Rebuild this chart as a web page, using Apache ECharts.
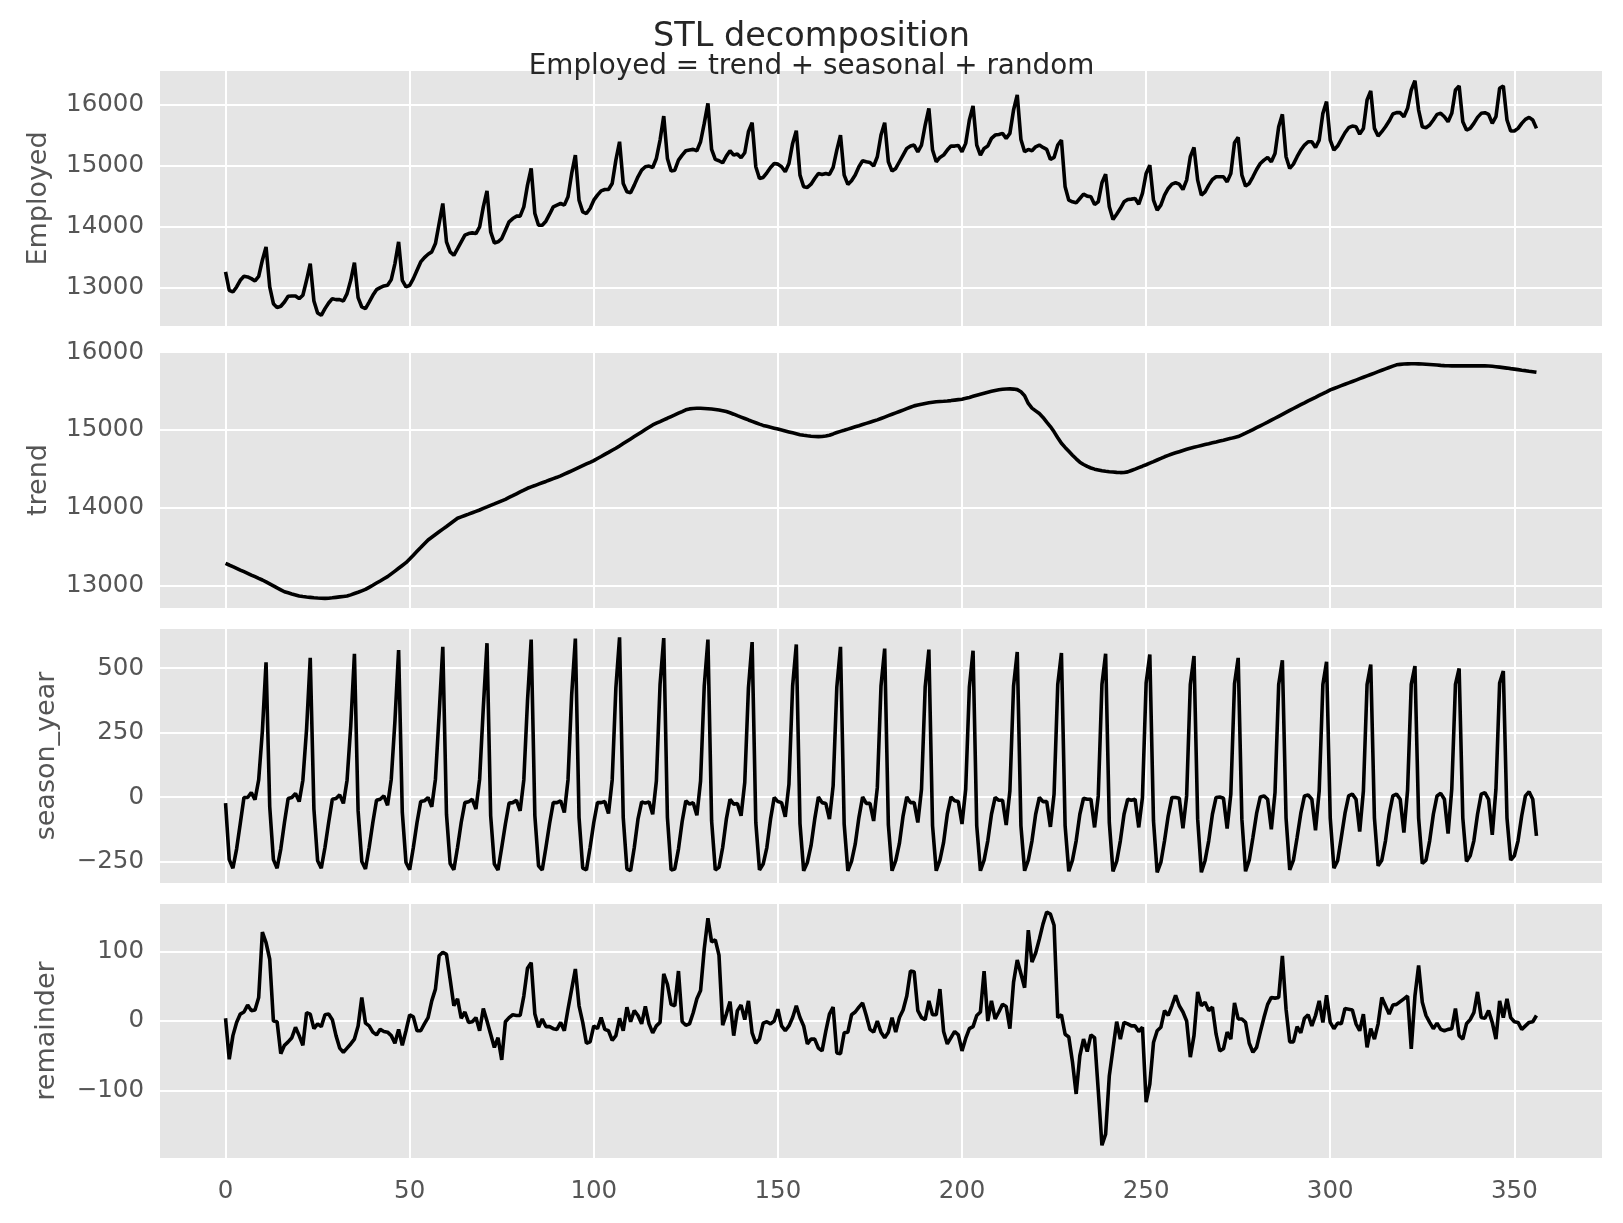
<!DOCTYPE html>
<html>
<head>
<meta charset="utf-8">
<script src="https://cdn.jsdelivr.net/npm/echarts@6/dist/echarts.min.js"></script>
<style>
  html, body { margin: 0; padding: 0; background: #fff; }
  #main { width: 1623px; height: 1223px; }
</style>
</head>
<body>
<div id="main"></div>
<script>
// one row per year, Jan..Dec
var employed = [
  13262, 12962, 12934, 13016, 13125, 13190, 13180, 13152, 13114, 13190, 13453, 13671,
  13016, 12743, 12678, 12700, 12770, 12863, 12869, 12869, 12825, 12880, 13125, 13398,
  12787, 12590, 12552, 12662, 12754, 12825, 12809, 12809, 12787, 12907, 13125, 13414,
  12842, 12689, 12662, 12770, 12880, 12972, 13005, 13032, 13043, 13136, 13398, 13753,
  13125, 13016, 13043, 13152, 13289, 13425, 13496, 13551, 13589, 13725, 14053, 14380,
  13753, 13589, 13534, 13643, 13753, 13862, 13889, 13900, 13889, 13998, 14325, 14587,
  13916, 13736, 13753, 13807, 13943, 14080, 14134, 14173, 14173, 14325, 14680, 14953,
  14216, 14025, 14025, 14091, 14205, 14325, 14353, 14380, 14353, 14489, 14871, 15171,
  14434, 14243, 14216, 14298, 14434, 14516, 14587, 14609, 14609, 14707, 15089, 15389,
  14707, 14571, 14554, 14680, 14816, 14925, 14980, 14991, 14969, 15116, 15416, 15809,
  15116, 14909, 14925, 15089, 15171, 15242, 15253, 15264, 15242, 15389, 15689, 16016,
  15264, 15100, 15078, 15045, 15154, 15242, 15171, 15187, 15127, 15209, 15553, 15700,
  14980, 14789, 14805, 14882, 14969, 15034, 15023, 14980, 14898, 15034, 15362, 15569,
  14844, 14653, 14642, 14696, 14789, 14871, 14855, 14871, 14855, 14969, 15253, 15498,
  14844, 14691, 14751, 14844, 14980, 15078, 15062, 15051, 14991, 15144, 15498, 15700,
  15062, 14909, 14953, 15062, 15171, 15280, 15318, 15335, 15225, 15335, 15662, 15935,
  15253, 15062, 15133, 15171, 15253, 15318, 15318, 15329, 15225, 15362, 15744, 15973,
  15335, 15171, 15280, 15318, 15444, 15498, 15509, 15526, 15444, 15526, 15907, 16153,
  15427, 15225, 15264, 15242, 15307, 15335, 15296, 15264, 15100, 15133, 15335, 15416,
  14653, 14434, 14407, 14391, 14462, 14533, 14500, 14489, 14364, 14407, 14718, 14860,
  14325, 14118, 14205, 14298, 14407, 14446, 14451, 14462, 14369, 14544, 14871, 15007,
  14434, 14271, 14353, 14516, 14625, 14696, 14718, 14696, 14609, 14762, 15144, 15296,
  14762, 14516, 14571, 14680, 14773, 14816, 14816, 14816, 14734, 14871, 15373, 15460,
  14844, 14664, 14707, 14816, 14936, 15034, 15089, 15133, 15062, 15198, 15635, 15836,
  15144, 14953, 15023, 15144, 15253, 15335, 15389, 15389, 15296, 15416, 15853, 16044,
  15416, 15253, 15318, 15427, 15536, 15618, 15645, 15634, 15514, 15607, 16071, 16218,
  15607, 15482, 15553, 15634, 15727, 15842, 15864, 15864, 15798, 15935, 16235, 16387,
  15907, 15634, 15618, 15662, 15744, 15836, 15853, 15798, 15716, 15853, 16235, 16300,
  15716, 15580, 15607, 15689, 15787, 15853, 15864, 15836, 15689, 15798, 16262, 16300,
  15744, 15564, 15564, 15607, 15689, 15755, 15787, 15744, 15607
];

var trend = [
  13283, 13262, 13240, 13219, 13197, 13176, 13155, 13133, 13112, 13090, 13069, 13044,
  13019, 12994, 12968, 12943, 12918, 12904, 12890, 12877, 12863, 12856, 12850, 12846,
  12841, 12837, 12834, 12833, 12835, 12840, 12846, 12852, 12858, 12863, 12878, 12895,
  12912, 12930, 12948, 12975, 13002, 13030, 13057, 13085, 13112, 13148, 13184, 13220,
  13256, 13292, 13340, 13389, 13438, 13486, 13535, 13584, 13619, 13654, 13689, 13724,
  13758, 13793, 13828, 13863, 13881, 13899, 13916, 13934, 13952, 13970, 13990, 14009,
  14029, 14048, 14068, 14088, 14107, 14131, 14154, 14178, 14202, 14225, 14249, 14267,
  14284, 14302, 14320, 14337, 14355, 14373, 14390, 14408, 14430, 14452, 14474, 14496,
  14518, 14540, 14562, 14583, 14605, 14632, 14658, 14685, 14711, 14738, 14764, 14794,
  14824, 14854, 14884, 14914, 14944, 14974, 15004, 15034, 15064, 15086, 15107, 15129,
  15150, 15172, 15193, 15215, 15236, 15258, 15270, 15275, 15278, 15278, 15276, 15273,
  15268, 15262, 15255, 15246, 15236, 15220, 15202, 15183, 15165, 15147, 15128, 15110,
  15092, 15074, 15058, 15046, 15034, 15022, 15010, 14998, 14986, 14974, 14962, 14950,
  14938, 14930, 14924, 14919, 14916, 14914, 14916, 14922, 14932, 14948, 14966, 14981,
  14995, 15010, 15025, 15040, 15054, 15069, 15084, 15099, 15114, 15129, 15147, 15165,
  15183, 15201, 15219, 15237, 15255, 15273, 15291, 15309, 15320, 15331, 15340, 15349,
  15356, 15362, 15365, 15368, 15372, 15377, 15383, 15389, 15395, 15406, 15418, 15432,
  15446, 15459, 15472, 15484, 15496, 15507, 15516, 15522, 15526, 15528, 15525, 15518,
  15490, 15440, 15340, 15280, 15245, 15210, 15160, 15100, 15043, 14975, 14900, 14828,
  14775, 14725, 14675, 14628, 14585, 14555, 14530, 14510, 14495, 14485, 14475, 14468,
  14462, 14458, 14454, 14451, 14452, 14460, 14478, 14496, 14515, 14533, 14552, 14572,
  14592, 14613, 14633, 14654, 14672, 14690, 14705, 14720, 14735, 14750, 14764, 14776,
  14788, 14800, 14811, 14822, 14834, 14845, 14857, 14868, 14880, 14891, 14903, 14914,
  14935, 14957, 14980, 15004, 15028, 15052, 15076, 15100, 15125, 15150, 15175, 15200,
  15225, 15250, 15275, 15300, 15324, 15348, 15373, 15396, 15419, 15443, 15466, 15490,
  15515, 15533, 15551, 15569, 15587, 15605, 15623, 15641, 15659, 15677, 15695, 15713,
  15731, 15749, 15767, 15785, 15803, 15820, 15837, 15843, 15847, 15849, 15850, 15850,
  15849, 15847, 15844, 15841, 15838, 15834, 15830, 15827, 15825, 15824, 15823, 15823,
  15823, 15824, 15824, 15824, 15824, 15824, 15823, 15822, 15818, 15813, 15807, 15801,
  15795, 15788, 15782, 15775, 15768, 15762, 15755, 15749, 15742
];

var seasonYear = [
  -23, -242, -275, -201, -102, -1, -1, 18, -10, 67, 256, 523,
  -37, -242, -275, -201, -98, -5, -1, 14, -17, 66, 263, 540,
  -46, -246, -275, -195, -98, -8, -5, 9, -24, 66, 276, 556,
  -53, -249, -278, -195, -98, -12, -8, 5, -31, 70, 295, 570,
  -59, -253, -281, -195, -98, -17, -14, -1, -37, 70, 321, 583,
  -66, -257, -281, -195, -98, -21, -18, -8, -46, 70, 347, 597,
  -72, -259, -282, -195, -104, -23, -21, -12, -53, 67, 373, 611,
  -72, -266, -282, -195, -102, -21, -21, -14, -59, 67, 398, 615,
  -79, -275, -282, -195, -98, -21, -21, -17, -63, 67, 424, 620,
  -79, -278, -285, -195, -85, -18, -23, -18, -66, 63, 437, 617,
  -79, -282, -278, -201, -94, -14, -27, -21, -70, 63, 431, 611,
  -92, -282, -272, -195, -85, -8, -27, -24, -72, 57, 424, 601,
  -98, -282, -259, -195, -85, -1, -17, -21, -76, 50, 431, 592,
  -102, -285, -253, -188, -85, 1, -21, -24, -85, 44, 427, 583,
  -104, -285, -249, -182, -79, 1, -24, -24, -92, 37, 431, 576,
  -107, -285, -246, -179, -72, 1, -21, -21, -98, 31, 427, 572,
  -111, -285, -244, -175, -66, 1, -14, -17, -104, 31, 427, 568,
  -111, -285, -244, -169, -66, -1, -12, -12, -108, 24, 431, 563,
  -111, -285, -244, -169, -66, -1, -17, -17, -115, 12, 437, 559,
  -111, -287, -244, -169, -66, -4, -8, -8, -117, 5, 437, 556,
  -98, -287, -249, -169, -66, -8, -12, -8, -117, -1, 443, 553,
  -92, -291, -253, -169, -72, -1, -1, -4, -120, 5, 437, 547,
  -85, -291, -246, -169, -66, -1, 1, -4, -121, 12, 440, 540,
  -85, -287, -244, -156, -63, 1, 5, -8, -124, 18, 437, 531,
  -81, -282, -244, -156, -63, 5, 9, -8, -128, 24, 437, 525,
  -81, -275, -246, -156, -63, 5, 12, -8, -133, 24, 437, 514,
  -81, -266, -244, -169, -66, 5, 12, -8, -137, 27, 437, 508,
  -81, -257, -244, -169, -66, 5, 15, -8, -141, 31, 437, 499,
  -81, -249, -227, -169, -66, 12, 18, -8, -146, 31, 443, 489,
  -81, -244, -227, -169, -72, 5, 21, -8, -150
];

var remainder = [
  4, -55, -21, -2, 10, 13, 23, 15, 16, 34, 128, 113,
  89, 0, -1, -47, -35, -30, -24, -9, -21, -35, 12, 10,
  -11, -4, -8, 9, 10, 2, -21, -39, -45, -39, -33, -26,
  -7, 34, -3, -7, -16, -20, -12, -15, -16, -21, -32, -12,
  -35, -14, 9, 6, -14, -14, -4, 5, 29, 46, 94, 99,
  96, 60, 22, 32, 4, 13, -2, -1, 5, -14, 18, 0,
  -19, -38, -24, -56, -1, 5, 9, 8, 8, 36, 76, 84,
  10, -9, 3, -8, -8, -11, -12, -2, -14, 17, 46, 75,
  22, -2, -32, -30, -7, -11, 5, -12, -14, -28, -21, 4,
  -14, 20, -1, 15, 8, -4, 21, -4, -17, -7, -2, 68,
  53, 24, 22, 72, -1, -6, -4, 12, 32, 44, 104, 148,
  114, 117, 95, -6, 10, 28, -21, 15, 23, 2, 29, -17,
  -32, -26, -3, -1, -4, 0, 17, -7, -14, -7, 5, 22,
  5, -7, -33, -26, -26, -39, -43, -15, 10, 20, -46, -47,
  -17, -16, 9, 13, 20, 26, 8, -12, -16, 0, -16, -24,
  -16, 5, -16, 5, 16, 36, 72, 71, 15, 5, 2, 29,
  9, 9, 46, -15, -33, -24, -15, -20, -43, -25, -11, -8,
  8, 13, 72, 0, 29, 3, 13, 24, 21, -11, 56, 88,
  68, 48, 131, 85, 98, 118, 140, 157, 154, 138, 5, 9,
  -19, -23, -59, -105, -50, -26, -44, -20, -24, -100, -179, -163,
  -79, -40, -1, -26, -2, -4, -7, -7, -15, -9, -117, -91,
  -31, -14, -9, 15, 8, 22, 37, 22, 13, 0, -52, -21,
  42, 22, 27, 15, 20, -19, -43, -40, -16, -26, 26, 3,
  3, -2, -32, -45, -38, -16, 5, 24, 34, 33, 34, 94,
  17, -30, -30, -8, -17, 4, 9, -7, 8, 29, -2, 37,
  -2, -11, -3, -4, 18, 17, 16, -4, -14, 10, -38, -11,
  -26, -4, 34, 22, 10, 23, 24, 28, 32, 36, -40, 36,
  80, 27, 8, -2, -11, -3, -12, -14, -12, -11, 18, -21,
  -26, -4, 2, 12, 42, 5, 4, 15, -2, -26, 29, 5,
  32, 5, -1, -2, -12, -7, -2, -1, 8
];

var xTicks = [0, 50, 100, 150, 200, 250, 300, 350];
var employedTicks = [13000, 14000, 15000, 16000];
var trendTicks = [13000, 14000, 15000, 16000];
var seasonTicks = [-250, 0, 250, 500];
var remainderTicks = [-100, 0, 100];

var FONT = 'DejaVu Sans';
var GRID_LEFT = 160;
var GRID_WIDTH = 1442;

// panel boxes and axis ranges
var panels = [
  { name: 'Employed',    data: employed,   ticks: employedTicks,  top: 71,  height: 255, min: 12378, max: 16545, nameGap: 108 },
  { name: 'trend',       data: trend,      ticks: trendTicks,     top: 352, height: 256, min: 12709, max: 16002, nameGap: 108 },
  { name: 'season_year', data: seasonYear, ticks: seasonTicks,    top: 629, height: 254, min: -332.5, max: 652, nameGap: 100 },
  { name: 'remainder',   data: remainder,  ticks: remainderTicks, top: 904, height: 254, min: -197.3, max: 168.6, nameGap: 100 }
];

// matplotlib style numbers: no thousands separator, real minus sign
function tickText(v) {
  return String(v).replace('-', '\u2212');
}

function toPairs(arr) {
  return arr.map(function (v, i) { return [i, v]; });
}

var grids = [], xAxes = [], yAxes = [], series = [];
panels.forEach(function (p, k) {
  var last = k === panels.length - 1;
  grids.push({
    left: GRID_LEFT, top: p.top, width: GRID_WIDTH, height: p.height,
    show: true, backgroundColor: '#E5E5E5', borderWidth: 0
  });
  xAxes.push({
    type: 'value', gridIndex: k, min: -17.8, max: 373.8,
    axisLine: { show: false },
    axisTick: { show: false, customValues: xTicks },
    axisLabel: {
      show: last, customValues: xTicks, color: '#555555', formatter: tickText,
      fontFamily: FONT, fontSize: 24.5, margin: 21
    },
    splitLine: { show: true, lineStyle: { color: '#ffffff', width: 2 } }
  });
  yAxes.push({
    type: 'value', gridIndex: k, min: p.min, max: p.max,
    name: p.name, nameLocation: 'middle', nameGap: p.nameGap, nameRotate: 90,
    nameTextStyle: { color: '#555555', fontFamily: FONT, fontSize: 27 },
    axisLine: { show: false },
    axisTick: { show: false, customValues: p.ticks },
    axisLabel: {
      customValues: p.ticks, color: '#555555', formatter: tickText,
      fontFamily: FONT, fontSize: 24.5, margin: 16
    },
    splitLine: { show: true, lineStyle: { color: '#ffffff', width: 2 } }
  });
  series.push({
    type: 'line', xAxisIndex: k, yAxisIndex: k,
    data: toPairs(p.data),
    showSymbol: false, symbol: 'none',
    lineStyle: { color: '#000000', width: 3.6 },
    silent: true
  });
});

var option = {
  animation: false,
  backgroundColor: '#ffffff',
  title: [
    {
      text: 'STL decomposition', left: 'center', top: 15,
      textStyle: { fontFamily: FONT, fontSize: 33.5, fontWeight: 'normal', color: '#262626' }
    },
    {
      text: 'Employed = trend + seasonal + random', left: 'center', top: 48,
      textStyle: { fontFamily: FONT, fontSize: 27.8, fontWeight: 'normal', color: '#262626' }
    }
  ],
  grid: grids,
  xAxis: xAxes,
  yAxis: yAxes,
  series: series
};

var myChart = echarts.init(document.getElementById('main'));
myChart.setOption(option);
</script>
</body>
</html>
